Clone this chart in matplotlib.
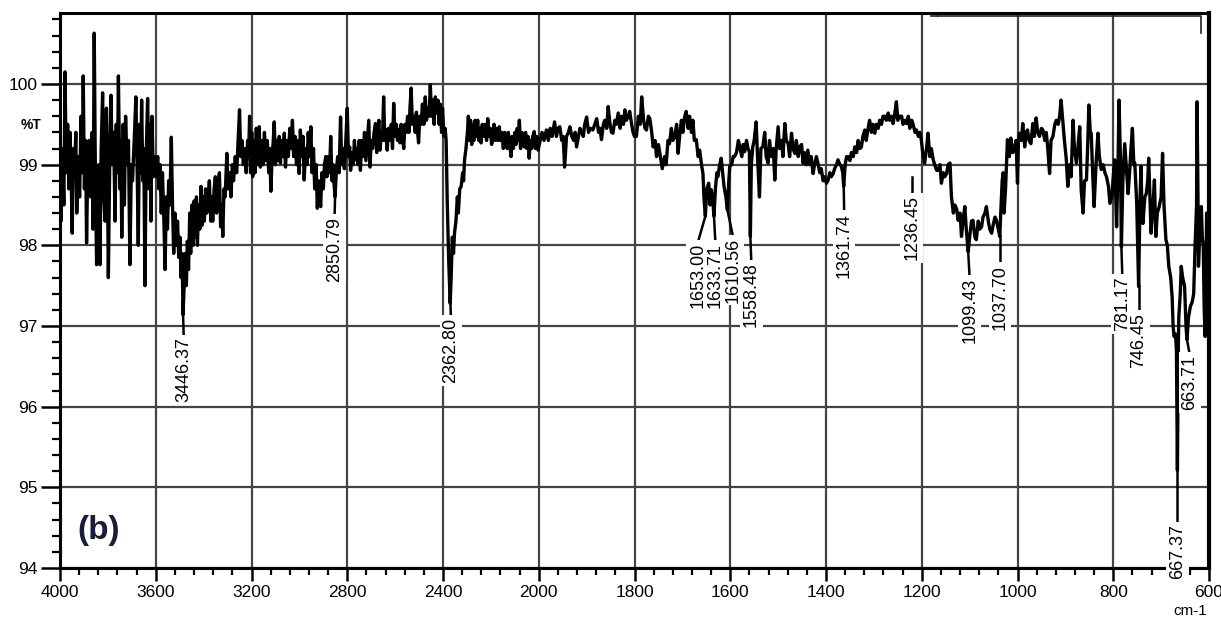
import numpy as np
import matplotlib
matplotlib.use("Agg")
import matplotlib.pyplot as plt
from matplotlib.ticker import FixedLocator, NullFormatter

plt.rcParams['font.family'] = ['Liberation Sans', 'DejaVu Sans']

# spectrum, (wavenumber cm-1, %T), high -> low wavenumber
band_4000_3600 = [
    (4000, 99.0), (3996, 98.3), (3990, 99.2), (3984, 98.5), (3979, 100.15), (3974, 98.9),
    (3968, 99.5), (3963, 98.7), (3958, 99.4), (3953, 98.8), (3949, 98.15), (3944, 99.2),
    (3938, 99.0), (3934, 99.4), (3930, 98.4), (3925, 99.1), (3918, 98.6), (3912, 99.6),
    (3906, 98.9), (3903, 100.1), (3898, 98.7), (3893, 99.3), (3889, 98.03), (3884, 99.0),
    (3878, 99.3), (3872, 98.6), (3866, 99.4), (3862, 98.2), (3857, 100.63), (3852, 98.8),
    (3847, 97.76), (3842, 98.9), (3838, 99.0), (3833, 97.76), (3828, 99.2), (3822, 99.89),
    (3817, 98.6), (3812, 98.3), (3806, 99.7), (3802, 98.9), (3798, 97.6), (3792, 99.1),
    (3787, 99.86), (3782, 99.0), (3776, 99.4), (3770, 98.3), (3765, 99.5), (3760, 98.9),
    (3756, 100.1), (3750, 98.7), (3746, 99.3), (3742, 98.1), (3736, 99.5), (3731, 98.5),
    (3726, 99.6), (3720, 99.0), (3714, 99.3), (3708, 97.76), (3702, 99.0), (3697, 98.8),
    (3690, 99.3), (3683, 99.84), (3678, 99.0), (3673, 98.0), (3668, 99.5), (3663, 98.9),
    (3659, 99.8), (3654, 98.8), (3650, 99.2), (3645, 97.5), (3640, 99.1), (3634, 99.82),
    (3628, 98.7), (3624, 99.5), (3620, 98.3), (3616, 99.6), (3610, 98.85), (3605, 99.1),
]
band_3600_3200 = [
    (3600, 99.05), (3596, 98.85), (3592, 99.1), (3587, 98.7), (3582, 99.0), (3577, 98.4),
    (3572, 98.9), (3566, 98.3), (3561, 97.7), (3556, 98.6), (3551, 98.2), (3546, 98.8),
    (3541, 98.5), (3535, 99.34), (3530, 98.5), (3525, 97.9), (3520, 98.4), (3514, 98.0),
    (3509, 98.3), (3504, 97.85), (3499, 98.1), (3494, 97.6), (3490, 97.9), (3486, 97.14),
    (3482, 97.45), (3477, 97.9), (3472, 97.5), (3468, 98.05), (3463, 97.7), (3458, 98.4),
    (3454, 97.9), (3449, 98.5), (3444, 98.0), (3440, 98.55), (3435, 98.1), (3430, 98.6),
    (3426, 98.0), (3421, 98.5), (3416, 98.2), (3411, 98.73), (3406, 98.25), (3401, 98.6),
    (3397, 98.3), (3392, 98.7), (3387, 98.4), (3381, 98.6), (3376, 98.8), (3370, 98.3),
    (3366, 98.6), (3362, 98.3), (3356, 98.7), (3351, 98.85), (3346, 98.4), (3340, 98.7),
    (3334, 98.9), (3329, 98.23), (3324, 98.5), (3320, 98.11), (3315, 98.7), (3310, 98.6),
    (3303, 99.14), (3298, 98.7), (3292, 98.9), (3286, 98.6), (3280, 99.0), (3275, 98.8),
    (3268, 99.1), (3262, 98.9), (3256, 99.3), (3250, 99.68), (3245, 99.1), (3240, 99.3),
    (3234, 99.0), (3228, 99.2), (3222, 98.9), (3216, 99.3), (3212, 99.1), (3208, 99.6),
    (3204, 98.9), (3199, 99.4), (3195, 98.85),
]
band_3200_2400 = [
    (3190, 99.3), (3185, 98.9), (3180, 99.45), (3175, 99.0), (3168, 99.47), (3163, 98.97),
    (3158, 99.3), (3152, 99.0), (3146, 99.4), (3140, 99.05), (3134, 99.3), (3128, 98.9),
    (3124, 99.2), (3119, 98.67), (3114, 99.1), (3109, 99.3), (3105, 99.53), (3100, 99.0),
    (3095, 99.3), (3090, 99.05), (3084, 99.35), (3079, 99.02), (3074, 99.3), (3068, 99.1),
    (3063, 99.39), (3058, 98.97), (3052, 99.3), (3046, 99.1), (3040, 99.45), (3035, 99.2),
    (3029, 99.55), (3024, 99.1), (3018, 99.35), (3012, 99.0), (3006, 99.3), (3001, 98.89),
    (2996, 99.43), (2990, 99.1), (2985, 99.35), (2980, 98.81), (2974, 99.2), (2968, 99.0),
    (2963, 99.4), (2957, 99.1), (2952, 99.47), (2947, 98.9), (2941, 99.2), (2936, 98.7),
    (2930, 99.0), (2925, 98.46), (2920, 98.8), (2915, 98.6), (2911, 98.48), (2906, 98.9),
    (2900, 98.7), (2895, 99.0), (2890, 99.1), (2885, 98.85), (2880, 99.1), (2874, 98.9),
    (2869, 99.35), (2864, 98.8), (2859, 99.0), (2855, 98.75), (2851, 98.6), (2846, 98.9),
    (2840, 99.1), (2834, 98.9), (2828, 99.59), (2823, 99.0), (2817, 99.2), (2812, 98.95),
    (2806, 99.3), (2800, 99.7), (2795, 99.1), (2790, 99.22), (2786, 98.93), (2780, 99.15),
    (2775, 99.0), (2770, 99.3), (2765, 99.06), (2760, 99.2), (2755, 99.0), (2750, 99.3),
    (2745, 98.93), (2740, 99.3), (2734, 99.1), (2728, 99.4), (2722, 99.05), (2716, 99.3),
    (2710, 99.55), (2705, 98.97), (2700, 99.3), (2694, 99.2), (2688, 99.4), (2682, 99.51),
    (2677, 99.15), (2672, 99.4), (2668, 99.55), (2663, 99.18), (2658, 99.4), (2653, 99.3),
    (2648, 99.84), (2643, 99.3), (2638, 99.43), (2633, 99.18), (2628, 99.45), (2622, 99.3),
    (2616, 99.5), (2611, 99.2), (2606, 99.76), (2600, 99.35), (2595, 99.5), (2590, 99.3),
    (2585, 99.43), (2580, 99.27), (2575, 99.5), (2570, 99.35), (2564, 99.2), (2559, 99.5),
    (2553, 99.4), (2548, 99.6), (2542, 99.4), (2538, 99.7), (2533, 99.95), (2528, 99.5),
    (2522, 99.6), (2516, 99.4), (2511, 99.65), (2506, 99.4), (2502, 99.27), (2497, 99.6),
    (2491, 99.5), (2486, 99.75), (2480, 99.5), (2474, 99.84), (2469, 99.55), (2463, 99.7),
    (2458, 99.6), (2453, 99.99), (2448, 99.6), (2442, 99.8), (2437, 99.5), (2432, 99.84),
    (2427, 99.64), (2421, 99.8), (2416, 99.5), (2411, 99.75), (2406, 99.4), (2402, 99.7),
]
band_2400_2000 = [
    (2396, 99.35), (2391, 99.45), (2387, 99.3), (2382, 98.5), (2376, 97.8), (2370, 97.28),
    (2366, 97.6), (2361, 98.1), (2356, 97.9), (2352, 98.15), (2346, 98.3), (2340, 98.6),
    (2336, 98.4), (2330, 98.7), (2324, 98.73), (2318, 98.9), (2314, 98.8), (2310, 99.06),
    (2304, 99.2), (2298, 99.4), (2294, 99.6), (2290, 99.3), (2285, 99.55), (2280, 99.25),
    (2276, 99.5), (2271, 99.3), (2266, 99.55), (2260, 99.35), (2255, 99.55), (2250, 99.3),
    (2245, 99.45), (2241, 99.27), (2236, 99.5), (2230, 99.35), (2224, 99.5), (2218, 99.3),
    (2213, 99.57), (2208, 99.35), (2202, 99.45), (2197, 99.25), (2192, 99.31), (2187, 99.5),
    (2181, 99.3), (2176, 99.45), (2170, 99.3), (2165, 99.47), (2160, 99.3), (2154, 99.4),
    (2148, 99.2), (2142, 99.4), (2137, 99.35), (2132, 99.2), (2127, 99.4), (2121, 99.25),
    (2116, 99.1), (2111, 99.35), (2106, 99.2), (2100, 99.4), (2095, 99.25), (2090, 99.45),
    (2085, 99.3), (2081, 99.55), (2076, 99.2), (2070, 99.4), (2065, 99.25), (2060, 99.22),
    (2055, 99.4), (2050, 99.2), (2045, 99.35), (2040, 99.08), (2035, 99.3), (2030, 99.2),
    (2025, 99.35), (2019, 99.41), (2014, 99.2), (2008, 99.35), (2003, 99.18),
]
band_2000_1600 = [
    (1997, 99.3), (1993, 99.4), (1989, 99.3), (1984, 99.43), (1980, 99.3), (1976, 99.45),
    (1972, 99.35), (1967, 99.53), (1963, 99.35), (1960, 99.45), (1956, 99.47), (1952, 99.3),
    (1949, 99.35), (1946, 98.97), (1942, 99.35), (1938, 99.4), (1935, 99.47), (1931, 99.35),
    (1927, 99.3), (1924, 99.4), (1921, 99.22), (1917, 99.35), (1914, 99.45), (1911, 99.41),
    (1907, 99.35), (1904, 99.5), (1900, 99.59), (1896, 99.4), (1892, 99.45), (1887, 99.43),
    (1883, 99.5), (1879, 99.57), (1875, 99.4), (1872, 99.45), (1869, 99.31), (1865, 99.5),
    (1862, 99.55), (1858, 99.45), (1855, 99.72), (1851, 99.5), (1848, 99.4), (1845, 99.39),
    (1841, 99.55), (1838, 99.5), (1834, 99.64), (1830, 99.45), (1827, 99.6), (1823, 99.5),
    (1820, 99.68), (1817, 99.55), (1813, 99.6), (1810, 99.66), (1806, 99.5), (1803, 99.4),
    (1800, 99.35), (1796, 99.35), (1792, 99.6), (1788, 99.5), (1785, 99.84), (1781, 99.55),
    (1778, 99.45), (1775, 99.43), (1771, 99.6), (1768, 99.57), (1764, 99.4), (1761, 99.22),
    (1757, 99.3), (1754, 99.1), (1750, 99.25), (1746, 99.1), (1742, 98.95), (1737, 99.1),
    (1734, 99.0), (1730, 99.3), (1727, 99.26), (1723, 99.45), (1720, 99.3), (1716, 99.35),
    (1712, 99.5), (1709, 99.14), (1705, 99.4), (1702, 99.55), (1699, 99.4), (1695, 99.6),
    (1692, 99.66), (1688, 99.45), (1685, 99.6), (1681, 99.4), (1678, 99.55), (1675, 99.3),
    (1671, 99.31), (1667, 99.1), (1664, 99.18), (1660, 99.0), (1657, 98.89), (1655, 98.6),
    (1652, 98.36), (1649, 98.7), (1645, 98.77), (1642, 98.5), (1640, 98.69), (1637, 98.6),
    (1634, 98.36), (1631, 98.7), (1628, 98.9), (1626, 98.85), (1622, 99.0), (1619, 99.08),
    (1616, 98.9), (1613, 98.73), (1609, 98.6), (1606, 98.44), (1603, 98.8), (1601, 98.98),
]
band_1600_1200 = [
    (1597, 99.0), (1594, 99.1), (1591, 99.1), (1587, 99.15), (1583, 99.3), (1580, 99.22),
    (1576, 99.1), (1573, 99.25), (1570, 99.16), (1566, 99.3), (1563, 99.2), (1560, 99.16),
    (1558, 98.11), (1556, 99.0), (1553, 99.22), (1550, 99.3), (1546, 99.53), (1543, 99.1),
    (1539, 98.6), (1536, 99.2), (1532, 99.22), (1528, 99.4), (1525, 99.1), (1521, 99.02),
    (1518, 99.3), (1514, 99.1), (1510, 99.2), (1507, 98.81), (1504, 99.2), (1500, 99.47),
    (1497, 99.2), (1493, 99.3), (1490, 99.1), (1486, 99.51), (1483, 99.3), (1479, 99.26),
    (1476, 99.1), (1472, 99.39), (1469, 99.2), (1465, 99.14), (1462, 99.3), (1458, 99.1),
    (1455, 99.22), (1451, 99.25), (1448, 99.02), (1445, 99.15), (1441, 99.0), (1438, 99.18),
    (1434, 99.0), (1431, 99.1), (1427, 98.89), (1424, 99.0), (1420, 99.1), (1417, 99.02),
    (1413, 98.9), (1410, 98.95), (1406, 98.8), (1403, 98.85), (1399, 98.77), (1396, 98.8),
    (1392, 98.9), (1389, 98.85), (1385, 98.89), (1382, 98.95), (1378, 99.0), (1375, 99.06),
    (1371, 99.0), (1368, 98.98), (1365, 98.9), (1363, 98.73), (1360, 99.0), (1357, 99.1),
    (1354, 99.1), (1350, 99.05), (1347, 99.15), (1343, 99.1), (1340, 99.22), (1336, 99.15),
    (1333, 99.3), (1329, 99.2), (1326, 99.22), (1323, 99.35), (1319, 99.43), (1316, 99.3),
    (1312, 99.45), (1309, 99.55), (1305, 99.4), (1302, 99.5), (1298, 99.39), (1295, 99.5),
    (1291, 99.45), (1288, 99.55), (1284, 99.5), (1281, 99.6), (1277, 99.6), (1274, 99.55),
    (1270, 99.64), (1267, 99.55), (1263, 99.6), (1260, 99.51), (1257, 99.6), (1253, 99.78),
    (1250, 99.55), (1246, 99.6), (1242, 99.6), (1239, 99.5), (1235, 99.55), (1232, 99.51),
    (1228, 99.6), (1225, 99.45), (1221, 99.55), (1218, 99.5), (1214, 99.4), (1211, 99.43),
    (1207, 99.35), (1204, 99.4), (1201, 99.31),
]
band_1200_600 = [
    (1197, 99.1), (1194, 99.02), (1190, 99.2), (1187, 99.39), (1183, 99.1), (1180, 99.2),
    (1176, 99.06), (1173, 99.0), (1169, 98.93), (1166, 98.93), (1162, 99.0), (1159, 98.77),
    (1155, 98.9), (1152, 98.85), (1148, 98.89), (1145, 99.0), (1141, 99.02), (1138, 98.6),
    (1134, 98.4), (1131, 98.5), (1127, 98.45), (1124, 98.31), (1120, 98.4), (1117, 98.11),
    (1114, 98.3), (1110, 98.48), (1107, 98.2), (1103, 97.92), (1100, 98.1), (1096, 98.3),
    (1093, 98.31), (1089, 98.1), (1086, 98.07), (1082, 98.3), (1079, 98.2), (1075, 98.23),
    (1072, 98.35), (1068, 98.4), (1065, 98.48), (1061, 98.3), (1058, 98.2), (1054, 98.15),
    (1051, 98.25), (1047, 98.35), (1044, 98.31), (1040, 98.2), (1037, 98.11), (1035, 98.4),
    (1032, 98.8), (1030, 98.9), (1028, 98.4), (1025, 98.7), (1021, 99.31), (1017, 99.1),
    (1014, 99.33), (1010, 99.15), (1007, 99.18), (1003, 99.3), (1000, 98.77), (998, 99.3),
    (996, 99.39), (992, 99.3), (989, 99.51), (985, 99.22), (982, 99.4), (979, 99.43),
    (976, 99.3), (972, 99.26), (968, 99.51), (965, 99.35), (961, 99.58), (958, 99.4),
    (954, 99.35), (950, 99.45), (947, 99.43), (943, 99.3), (940, 99.4), (937, 99.22),
    (933, 98.89), (930, 99.3), (926, 99.35), (922, 99.5), (919, 99.55), (915, 99.5),
    (912, 99.6), (909, 99.8), (905, 99.51), (902, 99.3), (898, 99.06), (895, 98.73),
    (891, 99.0), (888, 98.85), (884, 99.55), (881, 99.2), (877, 99.02), (874, 99.2),
    (870, 99.47), (867, 98.69), (863, 98.4), (860, 98.8), (856, 98.81), (853, 99.3),
    (851, 99.74), (848, 99.4), (846, 99.39), (843, 98.9), (840, 98.48), (836, 99.0),
    (832, 99.39), (829, 99.1), (825, 98.94), (821, 99.0), (817, 98.89), (814, 98.85),
    (810, 98.73), (807, 98.52), (803, 98.6), (800, 98.85), (797, 99.06), (793, 98.23),
    (790, 99.0), (788, 99.8), (785, 99.1), (783, 97.98), (780, 98.8), (776, 99.26),
    (772, 98.9), (769, 98.64), (766, 98.89), (763, 99.2), (760, 99.45), (757, 99.0),
    (755, 99.02), (751, 98.52), (747, 97.49), (744, 98.6), (742, 98.98), (740, 98.4),
    (738, 98.27), (734, 98.6), (731, 98.64), (728, 98.8), (726, 99.08), (723, 98.5),
    (721, 98.15), (717, 98.5), (714, 98.81), (711, 98.11), (708, 98.4), (704, 98.48),
    (700, 98.6), (697, 99.14), (694, 98.5), (690, 98.07), (687, 98.0), (684, 97.74),
    (680, 97.6), (677, 97.36), (675, 97.0), (673, 96.87), (670, 96.9), (668, 96.7),
    (666, 95.21), (664, 96.8), (663, 97.12), (660, 97.4), (658, 97.74), (655, 97.6),
    (651, 97.49), (648, 97.0), (646, 96.83), (643, 97.1), (639, 97.24), (635, 97.3),
    (632, 97.4), (629, 98.0), (626, 98.5), (625, 99.78), (623, 98.6), (622, 97.74),
    (619, 98.2), (616, 98.48), (614, 98.1), (612, 98.0), (610, 97.2), (608, 96.87),
    (606, 97.8), (605, 98.4), (603, 98.0), (601, 97.98),
]

# peak annotations: text, x of label, (x, %T) where leader starts, %T of label top
peak_text = ["3446.37", "2850.79", "2362.80", "1653.00", "1633.71", "1610.56", "1558.48",
             "1361.74", "1236.45", "1099.43", "1037.70", "781.17", "746.45", "663.71", "667.37"]
peak_label_x = [3483, 2853, 2367, 1668, 1631, 1594, 1556, 1362, 1221, 1100, 1037, 781, 747, 640, 666]
peak_x = [3486, 2851, 2369, 1652, 1634, 1606, 1558, 1363, 1221, 1103, 1037, 783, 747, 646, 666]
peak_t = [97.15, 98.58, 97.30, 98.36, 98.36, 98.44, 98.11, 98.73, 98.85, 97.92, 98.11, 97.98, 97.49, 96.83, 95.21]
label_top = [96.86, 98.35, 97.10, 98.03, 98.03, 98.10, 97.79, 98.40, 98.62, 97.60, 97.76, 97.61, 97.16, 96.64, 94.54]

x_major = [4000, 3600, 3200, 2800, 2400, 2000, 1800, 1600, 1400, 1200, 1000, 800, 600]
y_major = [94, 95, 96, 97, 98, 99, 100]


def fwd(x):
    x = np.asarray(x, dtype=float)
    return np.where(x > 2000, 2000 + (x - 2000) * 0.5, x)


def inv(u):
    u = np.asarray(u, dtype=float)
    return np.where(u > 2000, 2000 + (u - 2000) * 2.0, u)


spectrum = band_4000_3600 + band_3600_3200 + band_3200_2400 + band_2400_2000 \
    + band_2000_1600 + band_1600_1200 + band_1200_600
wn = np.array([p[0] for p in spectrum])
tr = np.array([p[1] for p in spectrum])

fig = plt.figure(figsize=(12.21, 6.18), dpi=100)
ax = fig.add_axes([60 / 1221, 50 / 618, 1149 / 1221, 555 / 618])
ax.set_xscale('function', functions=(fwd, inv))
ax.set_xlim(4000, 600)
ax.set_ylim(94, 100.88)

ax.plot(wn, tr, color='black', lw=2.4, zorder=3)

minor_x = list(np.arange(4000, 2000, -80)) + list(np.arange(2000, 600, -40))
ax.xaxis.set_major_locator(FixedLocator(x_major))
ax.xaxis.set_minor_locator(FixedLocator(minor_x))
ax.xaxis.set_minor_formatter(NullFormatter())
ax.set_xticklabels([str(v) for v in x_major])
ax.yaxis.set_major_locator(FixedLocator(y_major))
ax.yaxis.set_minor_locator(FixedLocator(list(np.arange(94, 100.9, 0.2))))
ax.set_yticklabels([str(v) for v in y_major])

ax.tick_params(axis='x', which='major', direction='out', length=9, width=1.8,
               labelsize=12.5, pad=3)
ax.tick_params(axis='x', which='minor', direction='out', length=5, width=1.6)
ax.tick_params(axis='y', which='major', direction='out', length=14, width=1.8,
               labelsize=12.5, pad=2)
ax.tick_params(axis='y', which='minor', direction='out', length=6, width=1.6)

ax.grid(True, which='major', color='#444444', lw=1.6)
ax.set_axisbelow(True)
for side in ['left', 'bottom', 'top']:
    ax.spines[side].set_linewidth(2.2)
ax.spines['right'].set_linewidth(3.0)

for txt, lx, px, pt, top in zip(peak_text, peak_label_x, peak_x, peak_t, label_top):
    ax.plot([px, lx], [pt, top], color='black', lw=1.8, zorder=4)
    ax.text(lx, top, txt, rotation=90, ha='center', va='top', fontsize=13,
            zorder=5, bbox=dict(boxstyle='square,pad=0.15', fc='white', ec='none'))

# thin bracket line under the top frame
ax.plot([1180, 617, 617], [100.84, 100.84, 100.63], color='#222222', lw=1.2, clip_on=False)
ax.plot([1168, 1168], [100.88, 100.84], color='#222222', lw=1.0, clip_on=False)

ax.text(3837, 94.46, '(b)', fontsize=24, fontweight='bold', color='#1b1b3a',
        ha='center', va='center')
fig.text(31 / 1221, 1 - 125 / 618, '%T', fontsize=10, fontweight='bold',
         ha='center', va='center')
fig.text(1190 / 1221, 1 - 611 / 618, 'cm-1', fontsize=11, ha='center', va='center')

fig.savefig('out.png', dpi=100)
